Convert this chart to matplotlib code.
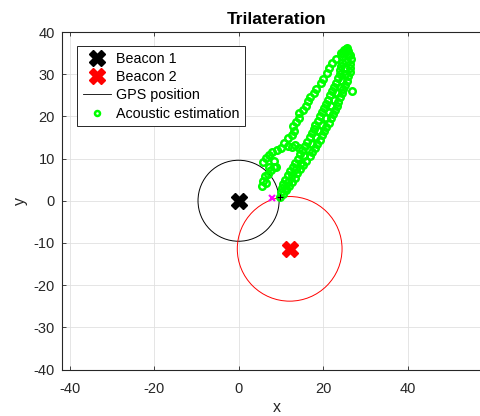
import numpy as np
import matplotlib
matplotlib.use('Agg')
import matplotlib.pyplot as plt
from matplotlib.patches import Circle

plt.rcParams['font.family'] = ['Liberation Sans', 'DejaVu Sans']
plt.rcParams['axes.unicode_minus'] = False

# beacons (x, y) and range circles
beacon1 = (0.0, 0.0)
beacon2 = (12.1, -11.4)
radius1 = 9.6
radius2 = 12.4

# GPS position (short track) and trilateration intersection
gps_x = [9.6, 9.9, 10.2]
gps_y = [0.8, 0.8, 0.8]
inter_x = [8.0]
inter_y = [0.7]

# acoustic estimation - right band (dense)
ac_right_x = [9.9, 10.1, 10.3, 10.6, 10.9, 11.6, 12.2, 12.8, 13.4, 14.0, 14.6, 15.1,
              15.7, 16.2, 16.8, 17.3, 17.8, 18.2, 18.7, 19.2, 19.7, 20.2, 20.7, 21.2,
              21.7, 22.2, 22.6, 23.1, 23.5, 24.0, 24.1, 24.2, 24.4, 24.5, 24.7,
              10.6, 11.2, 11.9, 12.6, 13.3, 13.9, 14.6, 15.3, 16.0, 16.9, 17.5, 18.0,
              18.6, 19.2, 19.8, 20.3, 20.8, 21.3, 21.8, 22.3, 22.8, 23.2, 23.6, 24.0,
              24.4, 24.8, 25.2, 25.6, 26.0, 26.3, 26.4, 26.5, 26.6, 26.5, 25.9,
              11.2, 12.6, 14.7, 16.6, 18.3, 19.8, 21.3, 22.6, 23.9, 25.1, 25.5, 25.4,
              11.8, 13.6, 15.6, 17.4, 19.0, 20.6, 22.0, 23.3, 24.5, 25.3, 26.0,
              26.9]
ac_right_y = [1.0, 2.0, 3.0, 4.0, 5.0, 6.0, 7.0, 8.0, 9.0, 10.0, 11.0, 12.0,
              13.0, 14.0, 15.0, 16.0, 17.0, 18.0, 19.0, 20.0, 21.0, 22.0, 23.0, 24.0,
              25.0, 26.0, 27.0, 28.0, 29.0, 30.0, 31.0, 32.0, 33.0, 34.0, 35.0,
              1.5, 2.5, 3.5, 4.5, 5.5, 6.5, 7.5, 8.5, 9.5, 10.5, 11.5, 12.5,
              13.5, 14.5, 15.5, 16.5, 17.5, 18.5, 19.5, 20.5, 21.5, 22.5, 23.5, 24.5,
              25.5, 26.5, 27.5, 28.5, 29.5, 30.5, 31.5, 32.5, 33.5, 34.5, 35.5,
              3.0, 6.0, 9.0, 12.0, 15.0, 18.0, 21.0, 24.0, 27.0, 30.0, 33.0, 36.0,
              4.5, 7.5, 10.5, 13.5, 16.5, 19.5, 22.5, 25.5, 28.5, 31.5, 34.5,
              26.1]

# acoustic estimation - left branch (sparser)
ac_left_x = [5.5, 5.9, 6.6, 6.2, 7.0, 7.6, 8.4, 7.2, 8.8, 5.8, 6.4, 7.3, 8.3, 8.0,
             9.2, 10.1, 10.8, 11.6, 12.6, 13.3, 14.2, 11.8, 12.6, 13.2, 13.0, 13.6, 14.2,
             14.4, 15.2, 15.9, 16.4, 17.0, 17.8, 18.4, 19.4, 20.0, 21.0, 21.4, 22.2,
             23.0, 24.2, 25.0, 25.7]
ac_left_y = [3.4, 4.6, 4.2, 5.8, 6.3, 7.2, 7.9, 7.9, 7.9, 9.2, 10.2, 10.8, 9.4, 11.6,
             12.0, 12.4, 13.6, 13.0, 12.8, 13.3, 12.5, 14.8, 15.6, 16.6, 17.8, 18.6, 19.6,
             20.8, 21.6, 22.5, 23.6, 24.6, 25.6, 26.5, 27.9, 28.8, 30.3, 31.4, 32.7,
             33.6, 35.0, 35.8, 36.2]

fig = plt.figure(figsize=(4.81, 4.16), dpi=100)
ax = fig.add_axes([62 / 481, 46.5 / 416, 430 / 481, 337.5 / 416])

ax.plot(beacon1[0], beacon1[1], 'X', color='black', markersize=11, label='Beacon 1', zorder=5)
ax.plot(beacon2[0], beacon2[1], 'X', color='red', markersize=11, label='Beacon 2', zorder=5)
ax.add_patch(Circle(beacon1, radius1, fill=False, edgecolor='black', lw=0.7))
ax.add_patch(Circle(beacon2, radius2, fill=False, edgecolor='red', lw=0.7))
ax.plot(gps_x, gps_y, color='black', lw=0.6, label='GPS position')
ax.plot(ac_right_x + ac_left_x, ac_right_y + ac_left_y, 'o', color=(0, 1, 0),
        mfc='none', markersize=4.7, mew=1.8, label='Acoustic estimation')
ax.plot(gps_x[1], gps_y[1], '+', color='black', markersize=4, mew=0.8, zorder=6)
ax.plot(inter_x, inter_y, 'x', color='magenta', markersize=4, mew=1.5, zorder=6)

ax.set_xlim(-41.8, 60.0)
ax.set_ylim(-40, 40)
ax.set_xticks([-40, -20, 0, 20, 40])
ax.set_yticks(np.arange(-40, 41, 10))
ax.tick_params(direction='in', top=True, right=True, length=3, labelsize=10.5,
               colors='0.15', width=0.6)
ax.tick_params(axis='x', pad=9)
ax.tick_params(axis='y', pad=5)
ax.grid(True, color='0.88', lw=0.6)
ax.set_axisbelow(True)
for s in ax.spines.values():
    s.set_color('0.15')
    s.set_linewidth(0.8)

ax.set_xlabel('x', fontsize=11.5, color='0.15', labelpad=3)
ax.set_ylabel('y', fontsize=11.5, color='0.15', labelpad=4)
ax.set_title('Trilateration', fontsize=12.5, fontweight='bold', pad=6)

leg = ax.legend(loc='upper left', bbox_to_anchor=(0.035, 0.9585), borderaxespad=0,
                fontsize=10.3, fancybox=False, framealpha=1, edgecolor='0.15',
                handlelength=2.0, handletextpad=0.3, labelspacing=0.3, borderpad=0.4)
leg.get_frame().set_linewidth(0.7)
leg.legend_handles[3].set_markersize(3.6)

fig.savefig('out.png', dpi=100)
